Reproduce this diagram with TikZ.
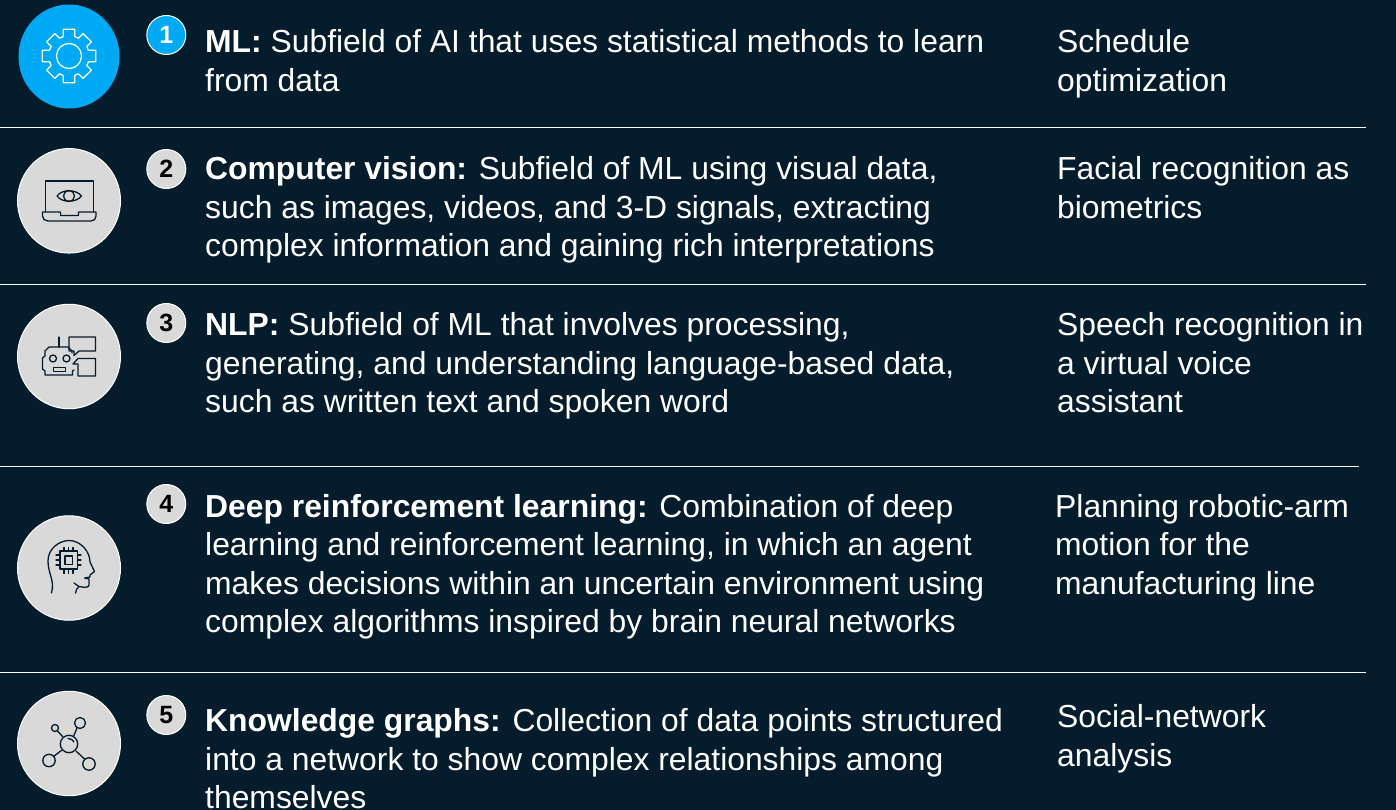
\documentclass[tikz,border=0pt]{standalone}
\usepackage{fontspec}
\usetikzlibrary{shapes.geometric}
\setmainfont{Liberation Sans}
\definecolor{bgc}{HTML}{051C2C}
\definecolor{cyanc}{HTML}{00A9F4}
\definecolor{greyc}{HTML}{D9D9D9}
\newcommand{\blk}[1]{\begin{tabular}[t]{@{}l@{}}#1\end{tabular}}
\tikzset{
  body/.style={anchor=base west,inner sep=0pt,text=white,font=\fontsize{31.85}{38.5}\selectfont},
  bigicon/.style={ellipse,inner sep=0pt,minimum width=103pt,minimum height=104.5pt,fill=greyc,draw=white,line width=1pt},
  badge/.style={circle,inner sep=0pt,minimum size=39pt,fill=greyc,draw=white,line width=1pt,text=black,font=\fontsize{25}{25}\selectfont\bfseries},
  rule/.style={draw=white,line width=1pt},
  ico/.style={draw=bgc,line width=1.3pt,line join=round,line cap=round}
}
\begin{document}
\begin{tikzpicture}[x=1pt,y=-1pt]
\useasboundingbox (0,0) rectangle (1396,810);
\fill[bgc] (0,0) rectangle (1396,810);
% rules
\draw[rule] (0,128) -- (1366,128);
\draw[rule] (0,284) -- (1366,284);
\draw[rule] (0,466) -- (1359,466);
\draw[rule] (0,672) -- (1366,672);
% big circles
\node[bigicon,fill=cyanc,draw=cyanc,minimum width=100pt,minimum height=103pt] (c1) at (69,56.5) {};
\node[bigicon] (c2) at (69,200.8) {};
\node[bigicon] (c3) at (69,356.5) {};
\node[bigicon] (c4) at (69,568) {};
\node[bigicon] (c5) at (69,743.5) {};
% badges
\node[badge,fill=cyanc,text=white] (b1) at (166.3,35) {1};
\node[badge] (b2) at (166.3,169) {2};
\node[badge] (b3) at (166.3,323) {3};
\node[badge] (b4) at (166.3,504) {4};
\node[badge] (b5) at (166.3,715) {5};
% texts
\node[body] (t1) at (205,53) {\blk{\textbf{ML:} Subfield of AI that uses statistical methods to learn\\from data}};
\node[body] (t2) at (205,180) {\blk{\textbf{Computer vision:} Subfield of ML using visual data,\\such as images, videos, and 3-D signals, extracting\\complex information and gaining rich interpretations}};
\node[body] (t3) at (205,335.5) {\blk{\textbf{NLP:} Subfield of ML that involves processing,\\generating, and understanding language-based data,\\such as written text and spoken word}};
\node[body] (t4) at (205,517) {\blk{\textbf{Deep reinforcement learning:} Combination of deep\\learning and reinforcement learning, in which an agent\\makes decisions within an uncertain environment using\\complex algorithms inspired by brain neural networks}};
\node[body] (t5) at (205,731.5) {\blk{\textbf{Knowledge graphs:} Collection of data points structured\\into a network to show complex relationships among\\themselves}};
\node[body] (u1) at (1057,53) {\blk{Schedule\\optimization}};
\node[body] (u2) at (1057,180) {\blk{Facial recognition as\\biometrics}};
\node[body] (u3) at (1057,335.5) {\blk{Speech recognition in\\a virtual voice\\assistant}};
\node[body] (u4) at (1055,517) {\blk{Planning robotic-arm\\motion for the\\manufacturing line}};
\node[body] (u5) at (1057,727.5) {\blk{Social-network\\analysis}};
% gear icon
\begin{scope}[shift={(69,56)}]
\draw[white,line width=1.2pt] (0,0) circle (12.5);
\foreach \a in {0,90,180,270}{
  \begin{scope}[rotate=\a]
  \draw[white,line width=1.2pt,line join=round] (-5.8,-19.5) -- (-5.8,-26.8) -- (5.8,-26.8) -- (5.8,-19.5) -- (9.8,-17.6);
  \end{scope}}
\foreach \a in {45,135,225,315}{
  \begin{scope}[rotate=\a]
  \draw[white,line width=1.2pt,line join=round] (-5.8,-19.5) -- (-5.8,-25.8) -- (5.8,-25.8) -- (5.8,-19.5) -- (9.8,-17.6);
  \end{scope}}
\end{scope}
% laptop icon
\begin{scope}[shift={(0,140)}]
\draw[ico] (45.5,72) -- (45.5,41) -- (93.5,41) -- (93.5,72);
\draw[ico] (42.5,72) -- (60.5,72) -- (60.5,75.5) -- (78.5,75.5) -- (78.5,72) -- (96,72) -- (96,76) .. controls (96,79) and (94,81) .. (91,81) -- (48,81) .. controls (45,81) and (42.5,79) .. (42.5,76) -- cycle;
\draw[ico] (57,56) .. controls (62,49) and (76,49) .. (81.5,56) .. controls (76,63) and (62,63) .. (57,56) -- cycle;
\draw[ico] (69,56) circle (5.5);
\end{scope}
% robot icon
\begin{scope}[shift={(0,295)}]
\draw[ico] (59,42) -- (59,52);
\draw[ico] (72,58) -- (72,56) -- (68,52) -- (49,52) -- (45,56) -- (45,61) -- (42.5,63) -- (42.5,74) -- (45,76) -- (45,80) -- (72.5,80) -- (72.5,76) -- (74,75);
\draw[ico] (69,42) -- (95.5,42) -- (95.5,56) -- (79,56) -- (74,60.5) -- (74,56) -- (69,56) -- cycle;
\draw[ico] (78,81) -- (95.5,81) -- (95.5,63.5) -- (78,63.5) -- (73,69) -- (78,69) -- cycle;
\draw[ico] (53,63.5) circle (3.5);
\draw[ico] (66.5,63.5) circle (3.5);
\draw[ico] (53.5,72.5) rectangle (65.5,76.8);
\end{scope}
% head icon
\begin{scope}[shift={(0,480)}]
\draw[ico] (51.5,113) .. controls (55,100) and (48,94) .. (48,81) .. controls (48,68) and (60,60.5) .. (69,60.5) .. controls (81,60.5) and (90,72) .. (90,82) -- (94.5,91.5) -- (90,95) -- (90,97) -- (84.5,98) -- (89,99) -- (89,105) .. controls (89,108) and (84,107.5) .. (79,106.5) -- (74,103);
\draw[ico] (79,106.5) .. controls (77,108) and (76,110) .. (75.5,113);
\draw[ico] (60,71) rectangle (77.5,89);
\draw[ico] (65,76) rectangle (72.5,84.5);
\foreach \x in {64,68.7,73}{\draw[ico] (\x,67.5) -- (\x,71); \draw[ico] (\x,89) -- (\x,93.5);}
\foreach \y in {75,80,85}{\draw[ico] (56,\y) -- (60,\y); \draw[ico] (77.5,\y) -- (81,\y);}
\end{scope}
% network icon
\begin{scope}[shift={(0,680)}]
\draw[ico] (69,64) circle (8.7);
\draw[ico] (55,48) circle (3.5);
\draw[ico] (80,43) circle (5.5);
\draw[ico] (49,80.5) circle (6.2);
\draw[ico] (89,84) circle (6.2);
\draw[ico] (57.5,51) -- (63,57);
\draw[ico] (77,48) -- (73.5,56.5);
\draw[ico] (53.5,76.5) -- (62,70);
\draw[ico] (76,71) -- (85,79.5);
\draw[ico] (68,58.5) .. controls (71,58.5) and (73,60) .. (74,62);
\end{scope}
\end{tikzpicture}
\end{document}
